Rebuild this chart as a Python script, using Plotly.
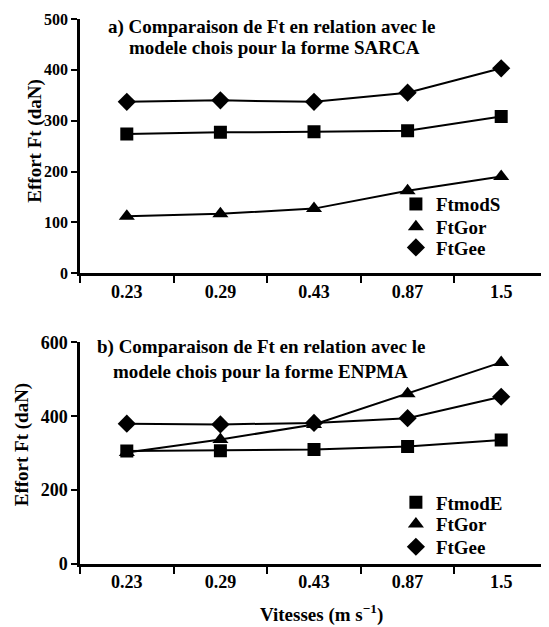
import plotly.graph_objects as go

speeds = ["0.23", "0.29", "0.43", "0.87", "1.5"]

# Panel a) SARCA
ftmodS = [274, 277, 278, 280, 308]
ftgor_a = [112, 117, 127, 162, 190]
ftgee_a = [337, 340, 337, 355, 403]

# Panel b) ENPMA
ftmodE = [306, 307, 310, 318, 336]
ftgor_b = [302, 337, 378, 461, 546]
ftgee_b = [380, 378, 382, 395, 453]

FONT = "Liberation Serif"
fs = 19
BOLD = "bold"

fig = go.Figure()

def add_series(x, y, name, symbol, size, xa, ya, legend):
    fig.add_trace(go.Scatter(x=x, y=y, mode="lines", line=dict(color="black", width=2),
                             xaxis=xa, yaxis=ya, showlegend=False, hoverinfo="skip"))
    fig.add_trace(go.Scatter(x=x, y=y, mode="markers", name=name,
                             marker=dict(symbol=symbol, size=size, color="black"),
                             xaxis=xa, yaxis=ya, legend=legend))

add_series(speeds, ftmodS, "FtmodS", "square", 13, "x", "y", "legend")
add_series(speeds, ftgor_a, "FtGor", "triangle-up", 14, "x", "y", "legend2")
add_series(speeds, ftgee_a, "FtGee", "diamond", 14, "x", "y", "legend3")

add_series(speeds, ftmodE, "FtmodE", "square", 13, "x2", "y2", "legend4")
add_series(speeds, ftgor_b, "FtGor", "triangle-up", 14, "x2", "y2", "legend5")
add_series(speeds, ftgee_b, "FtGee", "diamond", 14, "x2", "y2", "legend6")

tfont = dict(family=FONT, size=18, color="black", weight=BOLD)
xcommon = dict(type="category", categoryorder="array", categoryarray=speeds,
               range=[-0.5, 4.5], tickson="boundaries", ticks="outside", ticklen=7,
               tickwidth=2, tickcolor="black", showline=True, linewidth=2.5,
               linecolor="black", showgrid=False, zeroline=False,
               tickfont=tfont, domain=[0, 1])
ycommon = dict(ticks="outside", ticklen=6, tickwidth=2, tickcolor="black",
               showline=True, linewidth=2.5, linecolor="black", showgrid=False,
               zeroline=False)

# legend item positions (paper y of each legend's top)
leg_tops = [0.6952, 0.6535, 0.6154, 0.1479, 0.1079, 0.0662]
legends = {}
for i, yt in enumerate(leg_tops):
    key = "legend" if i == 0 else f"legend{i + 1}"
    legends[key] = dict(x=0.675, y=yt, xanchor="left", yanchor="top",
                        bgcolor="rgba(0,0,0,0)", borderwidth=0,
                        font=dict(family=FONT, size=fs, color="black", weight=BOLD))

fig.update_layout(
    width=541, height=619,
    margin=dict(l=72, r=1, t=5, b=63),
    paper_bgcolor="white", plot_bgcolor="white",
    font=dict(family=FONT, size=fs, color="black"),
    xaxis=dict(anchor="y", **xcommon),
    xaxis2=dict(anchor="y2", **xcommon),
    yaxis=dict(anchor="x", domain=[0.5336, 1], range=[0, 500], dtick=100,
               tickfont=dict(family=FONT, size=16, color="black", weight=BOLD), **ycommon),
    yaxis2=dict(anchor="x2", domain=[0, 0.4065], range=[0, 600], dtick=200,
                tickfont=tfont, **ycommon),
    showlegend=True,
    **legends,
)

ann = [
    dict(text="a) Comparaison de Ft en relation avec le", x=0.410, y=0.986),
    dict(text="modele chois pour la forme SARCA", x=0.415, y=0.947),
    dict(text="b) Comparaison de Ft en relation avec le", x=0.387, y=0.399),
    dict(text="modele chois pour la forme ENPMA", x=0.385, y=0.3535),
    dict(text="Effort Ft (daN)", x=-0.096, y=0.775, textangle=-90),
    dict(text="Effort Ft (daN)", x=-0.124, y=0.2196, textangle=-90),
    dict(text="Vitesses (m s<sup>\u22121</sup>)", x=0.517, y=-0.0905),
]
for a in ann:
    fig.add_annotation(xref="paper", yref="paper", xanchor="center", yanchor="middle",
                       showarrow=False,
                       font=dict(family=FONT, size=fs, color="black", weight=BOLD), **a)

fig.write_html("out.html")
